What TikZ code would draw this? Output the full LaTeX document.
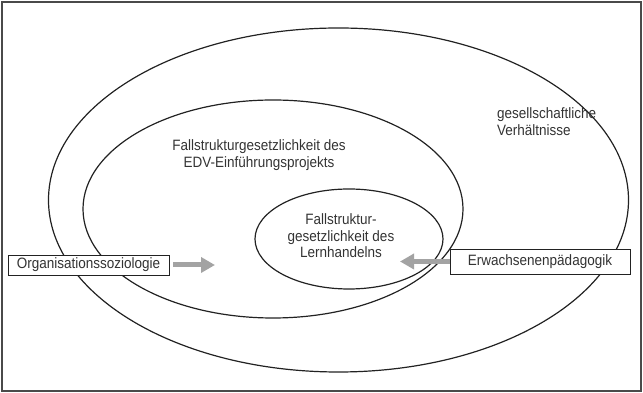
\documentclass[tikz,border=0pt]{standalone}
\usepackage{fontspec}
\setmainfont{Liberation Sans}[FakeStretch=0.9]
\usepackage{tikz}
\usetikzlibrary{
  arrows.meta,
  shapes.geometric,
  positioning,
  calc
}
\definecolor{feLine}{HTML}{222222}
\definecolor{feText}{HTML}{333333}
\definecolor{feFrame}{HTML}{4A4A4A}
\definecolor{feArrow}{HTML}{A3A3A3}
\tikzset{
  feld/.style={
    draw=feLine, ellipse, line width=1.2pt, inner sep=0pt, outer sep=0pt
  },
  ftext/.style={font=\fontsize{15}{16.5}\selectfont, text=feText, align=center, inner sep=0pt},
  disziplin/.style={
    draw=feLine, fill=white, line width=0.9pt, minimum height=20pt,
    font=\fontsize{15}{16.5}\selectfont, text=feText, inner sep=0pt
  },
  blick/.style={-{Triangle[length=14pt, width=15pt]}, line width=5pt, feArrow}
}

\begin{document}
\begin{tikzpicture}[x=1pt, y=1pt]
  \useasboundingbox (0,0) rectangle (643,393);
  \draw[feFrame, line width=1.4pt] (2,2) rectangle (641,391);

  % Felder
  \node[feld, minimum width=580pt, minimum height=344pt] (gesellschaft) at (338.5,193) {};
  \node[feld, minimum width=380pt, minimum height=218pt] (projekt) at (273,184) {};
  \node[feld, minimum width=188pt, minimum height=100pt] (lernen) at (349,154) {};

  \node[ftext, anchor=west, align=left] (tgesell) at (497,271.5) {gesellschaftliche\\Verhältnisse};
  \node[ftext] (tprojekt) at (259,238) {Fallstrukturgesetzlichkeit des\\EDV-Einführungsprojekts};
  \node[ftext] (tlernen) at (341,157) {Fallstruktur-\\gesetzlichkeit des\\Lernhandelns};

  % Perspektiven
  \node[disziplin, minimum width=161pt] (orga) at (88.5,128) {Organisationssoziologie};
  \node[disziplin, minimum width=180pt, minimum height=25pt] (erw) at (540,131.5) {Erwachsenenpädagogik};

  \coordinate (zielL) at (215,128);
  \coordinate (zielR) at (400,131.5);
  \draw[blick] ([xshift=4pt]orga.east) -- (zielL);
  \draw[blick] (erw.west) -- (zielR);
\end{tikzpicture}
\end{document}
